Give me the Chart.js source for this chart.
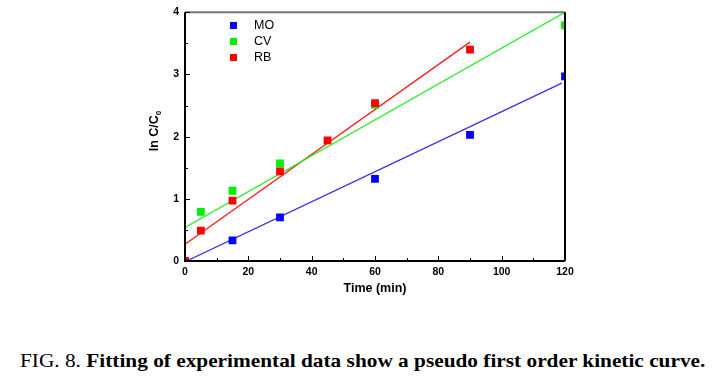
<!DOCTYPE html>
<html>
<head>
<meta charset="utf-8">
<script src="https://cdn.jsdelivr.net/npm/chart.js@4"></script>
<style>
  body { margin: 0; background: #fff; width: 716px; height: 383px; overflow: hidden; }
  #wrap { position: absolute; left: 0; top: 0; width: 716px; height: 300px; }
  #caption { position: absolute; left: 20px; top: 350px; transform-origin: 0 0;
    font-family: "Liberation Serif", serif; font-size: 19px; line-height: 22px; color: #000; white-space: nowrap; }
  #caption b { font-weight: bold; }
</style>
</head>
<body>
<div id="wrap"><canvas id="kin" width="716" height="300"></canvas></div>
<div id="caption">FIG. 8. <b>Fitting of experimental data show a pseudo first order kinetic curve.</b></div>
<script>
// measured points (time in min, ln C/C0)
const moTime = [0, 15, 30, 60, 90, 120];
const moVal = [0, 0.33, 0.70, 1.32, 2.03, 2.97];
const cvTime = [5, 15, 30, 60, 120];
const cvVal = [0.79, 1.13, 1.57, 2.51, 3.79];
const rbTime = [0, 5, 15, 30, 45, 60, 90];
const rbVal = [0, 0.49, 0.97, 1.44, 1.94, 2.54, 3.40];

// fitted lines, end points
const moFitX = [0.5, 119];
const moFitY = [0, 2.86];
const cvFitX = [0, 120];
const cvFitY = [0.54, 4.0];
const rbFitX = [0, 90];
const rbFitY = [0.27, 3.52];

const legendNames = ["MO", "CV", "RB"];
const colors = ["#0000ff", "#00ee00", "#ff0000"];
const lineColors = ["#3a2cf0", "#22ee22", "#ff1a1a"];

const xTicks = [0, 20, 40, 60, 80, 100, 120];
const yTicks = [0, 1, 2, 3, 4];

const pts = (xs, ys) => xs.map((x, i) => ({ x: x, y: ys[i] }));

// stretch caption to the width it has in the figure
const cap = document.getElementById("caption");
cap.style.transform = "scaleX(" + (685 / cap.offsetWidth) + ")";

// inward ticks, frame and legend
const decor = {
  id: "decor",
  afterDraw(chart) {
    const ctx = chart.ctx;
    const a = chart.chartArea;
    const xs = chart.scales.x, ys = chart.scales.y;
    ctx.save();
    // top frame (grey) and right frame
    ctx.strokeStyle = "#777";
    ctx.lineWidth = 2;
    ctx.beginPath(); ctx.moveTo(a.left, a.top); ctx.lineTo(a.right, a.top); ctx.stroke();
    ctx.strokeStyle = "#000";
    ctx.beginPath(); ctx.moveTo(a.right, a.top); ctx.lineTo(a.right, a.bottom); ctx.stroke();
    ctx.beginPath(); ctx.moveTo(a.left, a.top); ctx.lineTo(a.left, a.bottom); ctx.lineTo(a.right, a.bottom); ctx.stroke();
    ctx.lineWidth = 1;
    for (let v = 0; v <= 120; v += 10) {
      const px = Math.round(xs.getPixelForValue(v)) + 0.5;
      const len = v % 20 === 0 ? 5 : 3;
      ctx.beginPath(); ctx.moveTo(px, a.bottom); ctx.lineTo(px, a.bottom - len); ctx.stroke();
    }
    for (let v = 0; v <= 4; v += 0.5) {
      const py = Math.round(ys.getPixelForValue(v)) + 0.5;
      const len = v % 1 === 0 ? 5 : 3;
      ctx.beginPath(); ctx.moveTo(a.left, py); ctx.lineTo(a.left + len, py); ctx.stroke();
    }
    // legend
    ctx.font = "12.5px 'Liberation Sans', Arial, sans-serif";
    ctx.textBaseline = "middle";
    legendNames.forEach((name, i) => {
      const y = 25 + i * 16;
      ctx.fillStyle = colors[i];
      ctx.fillRect(230, y - 3, 7, 7);
      ctx.fillStyle = "#000";
      ctx.fillText(name, 254, y + 1);
    });
    // y title with subscript
    ctx.translate(158, 131);
    ctx.rotate(-Math.PI / 2);
    ctx.fillStyle = "#000";
    ctx.textBaseline = "alphabetic";
    ctx.font = "bold 12.5px 'Liberation Sans', Arial, sans-serif";
    const main = "ln C/C";
    const w = ctx.measureText(main).width;
    ctx.font = "bold 8px 'Liberation Sans', Arial, sans-serif";
    const w2 = ctx.measureText("0").width;
    const start = -(w + w2) / 2;
    ctx.font = "bold 12.5px 'Liberation Sans', Arial, sans-serif";
    ctx.fillText(main, start, 0);
    ctx.font = "bold 8px 'Liberation Sans', Arial, sans-serif";
    ctx.fillText("0", start + w, 3);
    ctx.restore();
  }
};

// lower order is drawn on top: RB over CV over MO
const scatter = (xs, ys, i) => ({
  type: "scatter",
  label: legendNames[i],
  data: pts(xs, ys),
  pointStyle: "rect",
  pointRadius: 5.5,
  pointBorderWidth: 0,
  backgroundColor: colors[i],
  borderColor: colors[i],
  order: 3 - i
});
const fit = (xs, ys, i) => ({
  type: "line",
  label: legendNames[i] + " fit",
  data: pts(xs, ys),
  borderColor: lineColors[i],
  borderWidth: 1.3,
  pointRadius: 0,
  fill: false,
  order: 4
});

new Chart(document.getElementById("kin"), {
  data: {
    datasets: [
      fit(moFitX, moFitY, 0), fit(cvFitX, cvFitY, 1), fit(rbFitX, rbFitY, 2),
      scatter(moTime, moVal, 0), scatter(cvTime, cvVal, 1), scatter(rbTime, rbVal, 2)
    ]
  },
  options: {
    responsive: false,
    animation: false,
    layout: { padding: { top: 9, right: 151, left: 0, bottom: 0 } },
    plugins: { legend: { display: false }, tooltip: { enabled: false } },
    scales: {
      x: {
        type: "linear", min: 0, max: 120,
        afterBuildTicks: s => { s.ticks = xTicks.map(v => ({ value: v })); },
        afterFit: s => { s.height = 39; },
        grid: { display: false, drawTicks: false },
        border: { display: false },
        ticks: { color: "#000", padding: 5, font: { family: "'Liberation Sans', Arial", size: 10.5, weight: "bold" } },
        title: { display: true, text: "Time (min)", color: "#000", padding: { top: 2 },
          font: { family: "'Liberation Sans', Arial", size: 12.5, weight: "bold" } }
      },
      y: {
        type: "linear", min: 0, max: 4,
        afterBuildTicks: s => { s.ticks = yTicks.map(v => ({ value: v })); },
        afterFit: s => { s.width = 185; },
        grid: { display: false, drawTicks: false },
        border: { display: false },
        ticks: { color: "#000", padding: 6, font: { family: "'Liberation Sans', Arial", size: 10.5, weight: "bold" } }
      }
    }
  },
  plugins: [decor]
});
</script>
</body>
</html>
